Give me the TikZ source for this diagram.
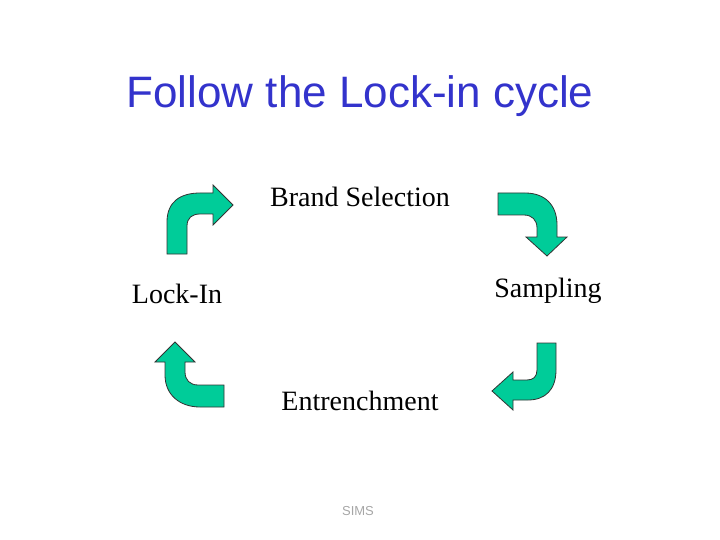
\documentclass[tikz,border=0pt]{standalone}
\usepackage{fontspec}
\setmainfont{Liberation Serif}
\newfontfamily\arialf{Liberation Sans}
\begin{document}
\begin{tikzpicture}[x=1pt,y=-1pt,
  arr/.style={fill=arrowgreen,draw=black!80,line width=0.8pt,line join=miter},
  lbl/.style={font=\fontsize{28}{32}\selectfont,inner sep=0pt}]
\definecolor{arrowgreen}{HTML}{00CC99}
\definecolor{titleblue}{HTML}{3333CC}
\useasboundingbox (0,0) rectangle (720,540);
\node[font=\arialf\fontsize{44}{50}\selectfont,text=titleblue,inner sep=0pt] (title) at (360,96) {Follow the Lock-in cycle};
\node[lbl] (bs) at (360,197) {Brand Selection};
\node[lbl] (sa) at (548,291) {Sampling};
\node[lbl] (li) at (177,294) {Lock-In};
\node[lbl] (en) at (360,401) {Entrenchment};
\node[font=\arialf\fontsize{13}{15}\selectfont,text=black!35,inner sep=0pt] (sims) at (358,511) {SIMS};
\draw[arr] (167,254) -- (167,222) .. controls (167,202) and (180,193) .. (200,193) -- (213,193) -- (213,185) -- (233,205) -- (213,225) -- (213,214) -- (200,214) .. controls (192,214) and (187,218) .. (187,226) -- (187,254) -- cycle;
\draw[arr] (498,193) -- (525,193) .. controls (545,193) and (557,205) .. (557,225) -- (557,237) -- (567,237) -- (547,256) -- (526,237) -- (537,237) -- (537,228) .. controls (537,220) and (532,215) .. (524,215) -- (498,215) -- cycle;
\draw[arr] (537,343) -- (556,343) -- (556,370) .. controls (556,390) and (545,400) .. (528,400) -- (513,400) -- (513,410) -- (492,391) -- (513,372) -- (513,380) -- (527,380) .. controls (533,380) and (537,377) .. (537,370) -- cycle;
\draw[arr] (224,407) -- (200,407) .. controls (180,407) and (165,395) .. (165,375) -- (165,362) -- (155,362) -- (175,342) -- (195,362) -- (185,362) -- (185,372) .. controls (185,380) and (190,385) .. (198,385) -- (224,385) -- cycle;
\end{tikzpicture}
\end{document}
